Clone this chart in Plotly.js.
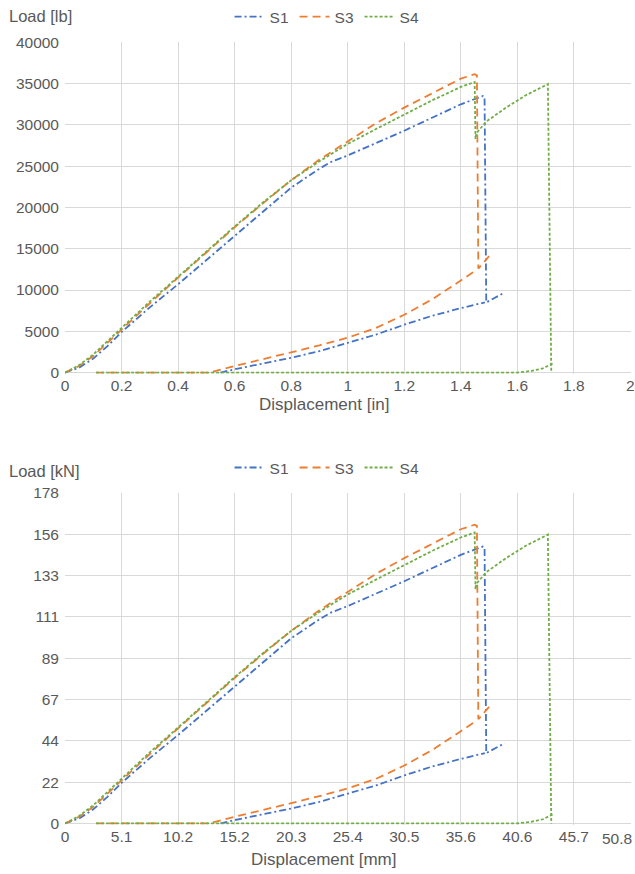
<!DOCTYPE html>
<html>
<head>
<meta charset="utf-8">
<script src="https://cdn.plot.ly/plotly-3.0.1.min.js"></script>
<style>html,body{margin:0;padding:0;background:#fff;}#chart{width:635px;height:874px;}</style>
</head>
<body>
<div id="chart"></div>
<script>
// ---- Data (inches / pounds) ----
const s1X = [0,0.05,0.1,0.15,0.2,0.3,0.4,0.5,0.6,0.7,0.8,0.9,0.94,1.0,1.1,1.2,1.3,1.4,1.478,1.484,1.49,1.555,null,0.55,0.6,0.7,0.8,0.9,1.0,1.1,1.2,1.3,1.4,1.485];
const s1Y = [0,600,1700,3200,4900,7900,10700,13600,16500,19500,22400,24700,25500,26300,27800,29300,30900,32500,33500,33400,8500,9700,null,0,400,1100,1800,2600,3600,4600,5800,6900,7800,8500];

const s3X = [0,0.05,0.1,0.15,0.2,0.3,0.4,0.5,0.6,0.7,0.8,0.9,1.0,1.1,1.2,1.3,1.4,1.449,1.457,1.462,1.50,null,0.11,0.2,0.3,0.4,0.51,0.6,0.7,0.8,0.9,1.0,1.1,1.2,1.3,1.4,1.455];
const s3Y = [0,800,2000,3600,5300,8400,11500,14600,17600,20500,23300,25800,28000,30200,32100,33900,35600,36150,36000,12600,14100,null,0,0,0,0,0,800,1600,2450,3300,4230,5400,7000,8900,11100,12400];

const s4X = [0,0.05,0.1,0.15,0.2,0.3,0.4,0.5,0.6,0.7,0.8,0.9,1.0,1.1,1.2,1.3,1.4,1.449,1.452,1.455,1.49,1.56,1.63,1.708,1.72,null,0.11,0.5,1.0,1.5,1.6,1.65,1.69,1.725];
const s4Y = [0,900,2200,3800,5500,8600,11600,14700,17700,20600,23300,25600,27700,29500,31300,33000,34600,35200,28300,29000,30400,32100,33600,34950,0,null,0,0,0,0,0,200,500,1100];

const seriesNames = ['S1','S3','S4'];
const xTicksIn = [0,0.2,0.4,0.6,0.8,1,1.2,1.4,1.6,1.8,2];
const yTicksLb = [0,5000,10000,15000,20000,25000,30000,35000,40000];
const xTickTextMm = ['0','5.1','10.2','15.2','20.3','25.4','30.5','35.6','40.6','45.7','50.8'];
const yTickTextKn = ['0','22','44','67','89','111','133','156','178'];

const IN2MM = 25.4, LB2KN = 0.00444822;
const conv = (arr, f) => arr.map(v => v === null ? null : v * f);

const colors = ['#4472C4','#ED7D31','#70AD47'];
const dashes = ['7px,3px,2px,3px','8px,5px','3px,2px'];
const xs = [s1X,s3X,s4X], ys = [s1Y,s3Y,s4Y];

const textColor = '#595959';
const fontFam = '"Liberation Sans", Arial, sans-serif';

const traces = [];
for (let i = 0; i < 3; i++) {
  traces.push({
    x: xs[i], y: ys[i], name: seriesNames[i], type: 'scatter', mode: 'lines',
    connectgaps: false, xaxis: 'x', yaxis: 'y', legend: 'legend',
    line: {color: colors[i], width: 1.8, dash: dashes[i]}
  });
}
for (let i = 0; i < 3; i++) {
  traces.push({
    x: conv(xs[i], IN2MM), y: conv(ys[i], LB2KN), name: seriesNames[i], type: 'scatter', mode: 'lines',
    connectgaps: false, xaxis: 'x2', yaxis: 'y2', legend: 'legend2',
    line: {color: colors[i], width: 1.8, dash: dashes[i]}
  });
}

const axisCommon = {
  showgrid: true, gridcolor: '#d9d9d9', gridwidth: 1,
  zeroline: false, showline: false, ticks: '',
  tickfont: {family: fontFam, size: 15.5, color: textColor},
  ticklabeloverflow: 'allow',
  fixedrange: true
};

const H = 874;
const legendCommon = {
  orientation: 'h', xanchor: 'center', yanchor: 'middle', x: 0.463,
  font: {family: fontFam, size: 15.5, color: textColor},
  itemwidth: 30, entrywidth: 20, entrywidthmode: 'pixels',
  bgcolor: 'rgba(0,0,0,0)', tracegroupgap: 0
};

// last mm tick label is drawn shifted inside the figure (as in the reference)
const mmTickTextShown = xTickTextMm.map((t, i) => i === xTickTextMm.length - 1 ? '' : t);

const layout = {
  width: 635, height: 874,
  margin: {l: 65, r: 4, t: 0, b: 0},
  paper_bgcolor: '#ffffff', plot_bgcolor: '#ffffff',
  font: {family: fontFam, color: textColor},
  xaxis: Object.assign({}, axisCommon, {
    domain: [0, 1], anchor: 'y', range: [0, 2.002], ticklabelstandoff: 1,
    tickvals: xTicksIn, ticktext: xTicksIn.map(String)
  }),
  yaxis: Object.assign({}, axisCommon, {
    domain: [0.5736, 0.9537], anchor: 'x', range: [-150, 40000], ticklabelstandoff: 5,
    tickvals: yTicksLb, ticktext: yTicksLb.map(String)
  }),
  xaxis2: Object.assign({}, axisCommon, {
    domain: [0, 1], anchor: 'y2', range: [0, 2.002 * IN2MM], ticklabelstandoff: 1,
    tickvals: xTicksIn.map(v => v * IN2MM), ticktext: mmTickTextShown
  }),
  yaxis2: Object.assign({}, axisCommon, {
    domain: [0.0566, 0.4371], anchor: 'x2', range: [-0.67, 40000 * LB2KN], ticklabelstandoff: 5,
    tickvals: yTicksLb.map(v => v * LB2KN), ticktext: yTickTextKn
  }),
  legend: Object.assign({}, legendCommon, {y: 1 - 15 / H}),
  legend2: Object.assign({}, legendCommon, {y: 1 - 467 / H}),
  annotations: [
    {text: 'Load [lb]', xref: 'paper', yref: 'paper', x: (7 - 65) / 566, y: 1 - 14 / H,
     xanchor: 'left', yanchor: 'middle', showarrow: false, font: {family: fontFam, size: 16.5, color: textColor}},
    {text: 'Displacement [in]', xref: 'paper', yref: 'paper', x: (324 - 65) / 566, y: 1 - 403 / H,
     xanchor: 'center', yanchor: 'middle', showarrow: false, font: {family: fontFam, size: 17, color: textColor}},
    {text: 'Load [kN]', xref: 'paper', yref: 'paper', x: (7 - 65) / 566, y: 1 - 470 / H,
     xanchor: 'left', yanchor: 'middle', showarrow: false, font: {family: fontFam, size: 16.5, color: textColor}},
    {text: 'Displacement [mm]', xref: 'paper', yref: 'paper', x: (323 - 65) / 566, y: 1 - 859 / H,
     xanchor: 'center', yanchor: 'middle', showarrow: false, font: {family: fontFam, size: 17, color: textColor}},
    {text: xTickTextMm[xTickTextMm.length - 1], xref: 'paper', yref: 'paper', x: (634 - 65) / 566, y: 1 - 838 / H,
     xanchor: 'right', yanchor: 'middle', showarrow: false, font: {family: fontFam, size: 15.5, color: textColor}}
  ],
  showlegend: true
};

Plotly.newPlot('chart', traces, layout, {staticPlot: true, displayModeBar: false});
</script>
</body>
</html>
